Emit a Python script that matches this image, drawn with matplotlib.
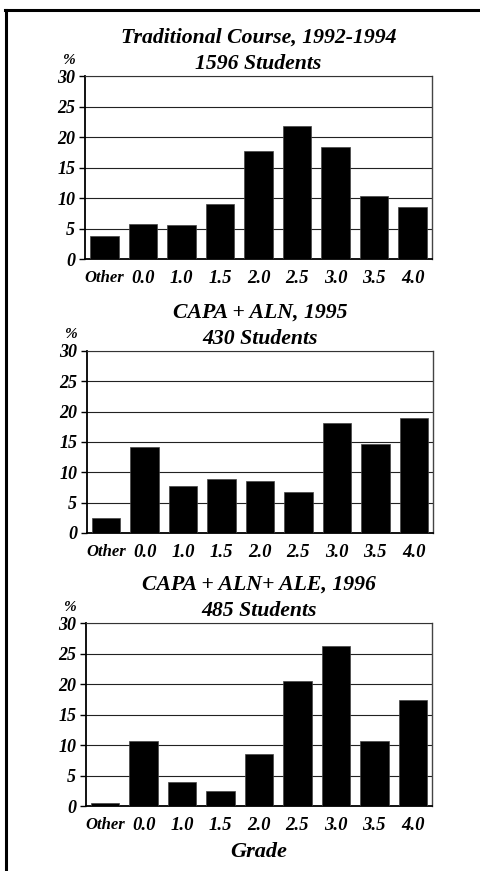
import matplotlib
matplotlib.use('Agg')
import matplotlib.pyplot as plt
from matplotlib.lines import Line2D

plt.rcParams['font.family'] = 'Liberation Serif'
plt.rcParams['font.weight'] = 'bold'
plt.rcParams['font.style'] = 'italic'
plt.rcParams['axes.labelweight'] = 'bold'

grades = ['Other', '0.0', '1.0', '1.5', '2.0', '2.5', '3.0', '3.5', '4.0']

trad_pct = [3.8, 5.7, 5.6, 9.1, 17.7, 21.8, 18.3, 10.3, 8.6]
aln_pct = [2.4, 14.2, 7.7, 8.9, 8.6, 6.8, 18.2, 14.7, 18.9]
ale_pct = [0.5, 10.6, 4.0, 2.4, 8.6, 20.5, 26.2, 10.6, 17.4]

titles = ['Traditional Course, 1992-1994', 'CAPA + ALN, 1995', 'CAPA + ALN+ ALE, 1996']
students = ['1596 Students', '430 Students', '485 Students']
yticks = [0, 5, 10, 15, 20, 25, 30]

fig = plt.figure(figsize=(4.81, 8.71), dpi=100)

# axes boxes in figure fraction
boxes = [[0.1767, 0.7026, 0.7214, 0.2101],
         [0.1809, 0.3881, 0.7193, 0.2090],
         [0.1788, 0.0746, 0.7193, 0.2101]]

data = [trad_pct, aln_pct, ale_pct]

for i in range(3):
    ax = fig.add_axes(boxes[i])
    x = list(range(len(grades)))
    ax.bar(x, data[i], width=0.74, color='black', edgecolor='#444444', linewidth=0.5, zorder=3)
    ax.set_xlim(-0.5, 8.5)
    ax.set_ylim(0, 30)
    ax.set_yticks(yticks)
    ax.set_yticklabels([str(v) for v in yticks], fontsize=13)
    ax.set_xticks(x)
    ax.set_xticklabels(grades, fontsize=13.5)
    ax.tick_params(axis='x', length=0, pad=8)
    ax.tick_params(axis='y', direction='out', length=4, width=1, pad=3)
    for lbl in ax.get_xticklabels():
        if lbl.get_text() == 'Other':
            lbl.set_fontsize(12)
    ax.yaxis.grid(True, color='#222222', linewidth=0.8, zorder=0)
    ax.spines['left'].set_linewidth(1.3)
    ax.spines['bottom'].set_linewidth(1.3)
    ax.spines['top'].set_linewidth(0.8)
    ax.spines['right'].set_linewidth(1.0)
    ax.spines['top'].set_color('#333333')
    ax.spines['right'].set_color('#444444')

    ax.annotate(students[i], xy=(0.5, 1), xycoords='axes fraction',
                xytext=(0, 5), textcoords='offset points',
                ha='center', va='baseline', fontsize=15.7)
    ax.annotate(titles[i], xy=(0.5, 1), xycoords='axes fraction',
                xytext=(0, 24), textcoords='offset points',
                ha='center', va='baseline', fontsize=15.7)
    ax.annotate('%', xy=(0, 1), xycoords='axes fraction',
                xytext=(-12, 9), textcoords='offset points',
                ha='center', va='baseline', fontsize=11)

    if i == 2:
        ax.set_xlabel('Grade', fontsize=16, labelpad=6)

# frame lines, left and top only
fig.add_artist(Line2D([0.0135, 0.0135], [0, 0.9885], transform=fig.transFigure,
                      color='black', linewidth=2.2))
fig.add_artist(Line2D([0.0105, 1.0], [0.9885, 0.9885], transform=fig.transFigure,
                      color='black', linewidth=2.2))

fig.savefig('out.png', dpi=100)
